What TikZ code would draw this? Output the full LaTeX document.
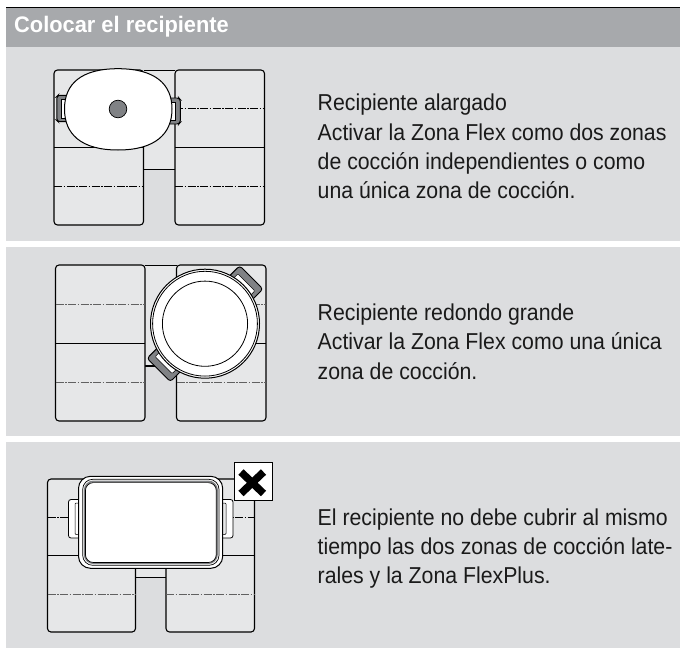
\documentclass[tikz,border=0pt]{standalone}
\usepackage{fontspec}
\setmainfont{Liberation Sans}
\newfontfamily\bodyf[FakeStretch=0.925]{Liberation Sans}
\newfontfamily\titlef[FakeStretch=0.97]{Liberation Sans}
\definecolor{hdr}{HTML}{A7A9AC}
\definecolor{panel}{HTML}{DCDDDF}
\definecolor{zone}{HTML}{E6E7E8}
\definecolor{hnd}{HTML}{808285}
\definecolor{ink}{HTML}{1A1A1A}
\tikzset{
 x=1pt,y=-1pt,
 zoneline/.style={draw=black,line width=1.1pt,fill=zone,line join=round},
 midline/.style={draw=black,line width=0.6pt,dash pattern=on 8pt off 1.5pt on 1.5pt off 1.5pt},
 midgrey/.style={draw=black!62,line width=0.9pt,dash pattern=on 8pt off 1.5pt on 1.5pt off 1.5pt},
 potline/.style={draw=black,line width=1pt,fill=white},
 handle/.style={draw=black,line width=0.9pt,fill=hnd,rounded corners=2pt},
 body/.style={anchor=north west,align=left,inner sep=0pt,text=ink,font=\bodyf\fontsize{23}{29.3}\selectfont},
}
\newcommand{\hob}[8]{%
 \fill[zone] (#2,#5) rectangle (#3,#7);
 \draw[black,line width=0.5pt] (#2,#5) -- (#3,#5);
 \draw[black,line width=1.1pt] (#2,#7) -- (#3,#7);
 \path[zoneline,rounded corners=3.5pt] (#1,#5) -- (#2,#5) -- (#2,#8) -- (#1,#8) -- cycle;
 \path[zoneline,rounded corners=3.5pt] (#3,#5) -- (#4,#5) -- (#4,#8) -- (#3,#8) -- cycle;
 \draw[black,line width=0.95pt] (#1,#6) -- (#2,#6) (#3,#6) -- (#4,#6);
}
\begin{document}
\begin{tikzpicture}
\useasboundingbox (0,0) rectangle (680,648);
\fill[white] (0,0) rectangle (680,648);
% header
\fill[hdr] (6,7) rectangle (680,47);
\draw[black,line width=0.7pt] (6,7) -- (680,7) (6,47) -- (680,47);
\node[anchor=base west,inner sep=0pt,text=white,font=\titlef\bfseries\fontsize{22.5}{26}\selectfont] (title) at (14,32.5) {Colocar el recipiente};
% panels
\fill[panel] (6,47.4) rectangle (680,241);
\fill[panel] (6,247) rectangle (680,436);
\fill[panel] (6,442) rectangle (680,648);

% --- first hob
\hob{54}{143.5}{175}{264.5}{70}{147}{169.5}{225}
\draw[midline] (175,108.5) -- (264,108.5) (54,186) -- (143.5,186) (175,186) -- (264,186);
\path[handle] (68,95.3) -- (58,95.3) -- (56.8,96.5) -- (56.8,120.5) -- (58,121.6) -- (68,121.6) -- cycle;
\path[draw=black,line width=0.5pt,fill=white] (61,99) rectangle (68,118);
\path[handle] (168,98) -- (179,98) -- (180.3,99.5) -- (180.3,122.5) -- (179,124) -- (168,124) -- cycle;
\path[draw=black,line width=0.5pt,fill=white] (168,102) rectangle (175,120);
\path[potline] (118,68.7) .. controls (155,68.7) and (172,84) .. (172,109) .. controls (172,134) and (155,150) .. (118,150) .. controls (81,150) and (64.5,134) .. (64.5,109) .. controls (64.5,84) and (81,68.7) .. (118,68.7) -- cycle;
\path[draw=black,line width=0.7pt,fill=hnd] (118,109) circle[radius=8.8];
\node[body] (t1) at (317.5,93.9) {Recipiente alargado\\Activar la Zona Flex como dos zonas\\de cocción independientes o como\\una única zona de cocción.};

% --- second hob
\hob{55.5}{145}{176.5}{266}{265}{343}{366}{421}
\draw[midgrey] (55.5,304) -- (145,304) (176.5,304) -- (266,304) (55.5,382) -- (145,382) (176.5,382) -- (266,382);
\begin{scope}[shift={(205,323.7)},rotate=-45]
 \path[handle,rounded corners=3pt] (-16.5,-65.5) rectangle (16.5,-48);
 \path[draw=black,line width=0.5pt,fill=white,rounded corners=1pt] (-12,-58.5) rectangle (12,-50);
 \path[handle,rounded corners=3pt] (-16.5,48) rectangle (16.5,65.5);
 \path[draw=black,line width=0.5pt,fill=white,rounded corners=1pt] (-12,50) rectangle (12,58.5);
\end{scope}
\path[potline] (205,323.7) circle[radius=54.5];
\path[potline,line width=0.8pt] (205,323.7) circle[radius=52.4];
\path[potline,line width=0.8pt] (205,323.7) circle[radius=42.6];
\node[body] (t2) at (317.5,303.8) {Recipiente redondo grande\\Activar la Zona Flex como una única\\zona de cocción.};

% --- third hob
\hob{47.5}{135.5}{166}{254.5}{479}{555.7}{577.7}{632}
\draw[midline] (47.5,517.5) -- (254,517.5);
\draw[midgrey] (47.5,594) -- (135.5,594) (166,594) -- (254,594);
\path[draw=black,line width=0.8pt,fill=white,rounded corners=2.5pt] (68.5,499.5) rectangle (90,538);
\path[draw=black,line width=0.8pt,fill=white,rounded corners=2.5pt] (212,499.5) rectangle (233,538);
\path[draw=black,line width=0.5pt,fill=white,rounded corners=1pt] (75,503) rectangle (85,534.5);
\path[draw=black,line width=0.5pt,fill=zone,rounded corners=1pt] (218,503) rectangle (226,534.5);
\path[potline,rounded corners=12pt] (78.5,476.3) rectangle (222.7,568.3);
\path[potline,rounded corners=10pt,line width=0.7pt] (82.7,479.3) rectangle (219,565.3);
\path[draw=hnd,line width=1.6pt,rounded corners=9pt] (84.6,481.3) rectangle (217.1,563.3);
\path[potline,rounded corners=8pt,line width=0.7pt] (85.4,482.6) rectangle (216.3,562.5);
\path[draw=black,line width=0.8pt,fill=white] (234,462) rectangle (272.3,500.7);
\draw[black,line width=7.5pt] (241,472) -- (263.5,493.5) (263.5,472) -- (241,493.5);
\node[body] (t3) at (317.5,508.2) {El recipiente no debe cubrir al mismo\\tiempo las dos zonas de cocción late-\\rales y la Zona FlexPlus.};
\end{tikzpicture}
\end{document}
